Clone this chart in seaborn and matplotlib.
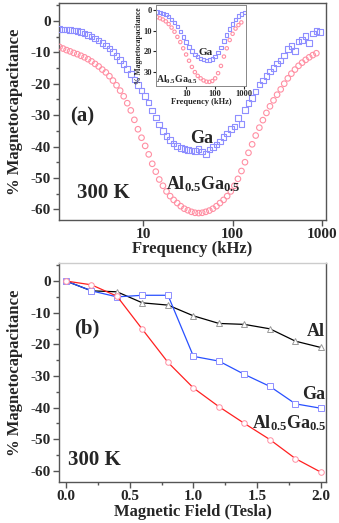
import numpy as np
import pandas as pd
import matplotlib
matplotlib.use('Agg')
import matplotlib.pyplot as plt
from matplotlib.ticker import MultipleLocator, NullLocator, FixedLocator
import seaborn as sns

# (a) frequency sweep, 300 K
freq_khz = [1.15, 1.26, 1.38, 1.51, 1.66, 1.82, 2.00, 2.19, 2.40, 2.63,
            2.88, 3.16, 3.47, 3.80, 4.17, 4.57, 5.01, 5.50, 6.03, 6.61,
            7.24, 7.94, 8.71, 9.55, 10.5, 11.5, 12.6, 13.8, 15.1, 16.6,
            18.2, 20.0, 21.9, 24.0, 26.3, 28.8, 31.6, 34.7, 38.0, 41.7,
            45.7, 50.1, 55.0, 60.3, 66.1, 72.4, 79.4, 87.1, 95.5, 105,
            115, 126, 138, 151, 166, 182, 200, 219, 240, 263,
            288, 316, 347, 380, 417, 457, 501, 550, 603, 661,
            724, 794, 871, 955]
mc_ga = [-2.6, -2.7, -2.8, -2.9, -3.0, -3.3, -3.6, -4.0, -4.5, -5.0,
         -5.6, -6.2, -7.0, -7.8, -8.8, -9.9, -11.1, -12.4, -13.8, -15.3,
         -16.9, -18.6, -20.4, -22.2, -24.0, -26.0, -28.5, -30.8, -33.0, -35.0,
         -36.7, -38.0, -39.0, -39.8, -40.4, -40.8, -41.1, -41.3, -41.4, -40.8,
         -41.6, -42.3, -41.0, -40.2, -39.3, -38.4, -37.0, -35.8, -34.5, -33.6,
         -31.0, -32.8, -28.3, -26.2, -24.5, -22.5, -20.3, -19.0, -17.5, -16.1,
         -15.0, -13.5, -12.6, -11.0, -9.0, -8.0, -9.5, -6.5, -6.0, -4.8,
         -7.0, -4.0, -3.2, -3.6]
mc_alga = [-8.3, -8.8, -9.3, -9.7, -10.2, -10.6, -11.1, -11.6, -12.2, -12.9,
           -13.7, -14.5, -15.5, -16.4, -17.6, -19.0, -20.5, -22.2, -24.0, -26.2,
           -28.5, -31.5, -34.5, -37.2, -39.8, -42.5, -45.5, -48.0, -50.5, -52.5,
           -54.3, -55.8, -57.0, -58.0, -59.0, -59.8, -60.3, -60.8, -61.1, -61.2,
           -61.1, -60.8, -60.4, -59.8, -59.0, -58.0, -57.0, -55.8, -54.3, -52.5,
           -50.3, -47.8, -45.0, -42.0, -39.3, -36.5, -34.0, -31.6, -29.3, -27.2,
           -25.3, -23.5, -21.8, -20.0, -18.3, -16.8, -15.5, -14.3, -13.3, -12.4,
           -11.6, -10.9, -10.3, np.nan]

# inset
inset_freq = [1.00, 1.26, 1.58, 2.00, 2.51, 3.16, 3.98, 5.01, 6.31, 7.94,
              10.0, 12.6, 15.8, 20.0, 25.1, 31.6, 39.8, 50.1, 63.1, 79.4,
              100, 126, 158, 200, 251, 316, 398, 501, 631, 794, 1000]
inset_ga = [1.0, 1.3, 1.7, 2.3, 3.2, 4.5, 6.0, 8.0, 10.5, 13.0,
            15.5, 17.8, 19.8, 21.4, 22.6, 23.5, 24.0, 24.3, 24.2, 23.6,
            22.4, 20.5, 18.0, 15.0, 12.0, 9.2, 6.8, 4.6, 3.0, 2.0, 1.2]
inset_alga = [3.5, 4.0, 4.6, 5.5, 6.8, 8.5, 10.5, 13.0, 15.5, 18.5,
              21.5, 24.5, 27.5, 30.0, 31.8, 33.0, 34.0, 34.6, 34.7, 34.3,
              33.0, 30.5, 27.0, 22.5, 18.5, 14.5, 11.5, 9.0, 7.3, 6.0, np.nan]

# (b) field sweep, 300 K
field_t = [0.0, 0.2, 0.4, 0.6, 0.8, 1.0, 1.2, 1.4, 1.6, 1.8, 2.0]
mcb_al = [0, -3.1, -3.4, -6.9, -7.6, -11.0, -13.4, -13.7, -15.1, -19.0, -21.0]
mcb_ga = [0, -3.1, -5.0, -4.5, -4.5, -23.8, -25.3, -29.5, -33.3, -38.8, -40.2]
mcb_alga = [0, -1.2, -4.8, -15.3, -25.7, -33.8, -39.7, -45.0, -50.1, -56.1, -60.4]

sns.set_style('ticks')
plt.rcParams['font.family'] = ['Liberation Serif', 'DejaVu Serif']
plt.rcParams['font.weight'] = 'bold'
plt.rcParams['axes.labelweight'] = 'bold'
plt.rcParams['axes.unicode_minus'] = False
plt.rcParams['mathtext.fontset'] = 'custom'
plt.rcParams['mathtext.rm'] = 'Liberation Serif:bold'
plt.rcParams['mathtext.it'] = 'Liberation Serif:bold'
plt.rcParams['mathtext.bf'] = 'Liberation Serif:bold'

PINK = '#ff8fa3'
LBLUE = '#8f8fff'
frame = '#555555'
alga_lbl = r'Al$_{0.5}$Ga$_{0.5}$'

fig = plt.figure(figsize=(3.39, 5.23), dpi=100)
ax1 = fig.add_axes([59 / 339, 1 - 220 / 523, 267 / 339, 217 / 523])
ax2 = fig.add_axes([59 / 339, 1 - 482 / 523, 267 / 339, 219 / 523])
axi = fig.add_axes([156 / 339, 1 - 86 / 523, 90 / 339, 81 / 523])

df_a = pd.DataFrame({'f': freq_khz, 'Ga': mc_ga, 'AlGa': mc_alga})
sns.scatterplot(data=df_a, x='f', y='AlGa', ax=ax1, marker='o', s=16,
                facecolor='none', edgecolor=PINK, linewidth=0.8, zorder=3)
sns.scatterplot(data=df_a, x='f', y='Ga', ax=ax1, marker='s', s=16,
                facecolor='none', edgecolor=LBLUE, linewidth=0.8, zorder=3)
ax1.set_xscale('log')
ax1.set_xlim(1.135, 1117)
ax1.set_ylim(-63.4, 5.7)
ax1.xaxis.set_major_locator(FixedLocator([10, 100, 1000]))
ax1.set_xticklabels(['10', '100', '1000'])
ax1.xaxis.set_minor_locator(NullLocator())
ax1.yaxis.set_major_locator(MultipleLocator(10))
ax1.yaxis.set_minor_locator(MultipleLocator(5))
ax1.set_xlabel('Frequency (kHz)', fontsize=12)
ax1.set_ylabel('% Magnetocapacitance', fontsize=12)
ax1.xaxis.set_label_coords(0.5, -0.095)
ax1.yaxis.set_label_coords(-0.135, 0.5)
ax1.text(2.05, -30.5, '(a)', fontsize=15, ha='center', va='center')
ax1.text(3.6, -54.7, '300 K', fontsize=15, ha='center', va='center')
ax1.text(45, -37.6, 'Ga', fontsize=13, ha='center', va='center')
ax1.text(47, -52, alga_lbl, fontsize=13, ha='center', va='center')

df_i = pd.DataFrame({'f': inset_freq, 'Ga': inset_ga, 'AlGa': inset_alga})
sns.scatterplot(data=df_i, x='f', y='AlGa', ax=axi, marker='o', s=6,
                facecolor='none', edgecolor=PINK, linewidth=0.8)
sns.scatterplot(data=df_i, x='f', y='Ga', ax=axi, marker='s', s=6,
                facecolor='none', edgecolor=LBLUE, linewidth=0.8)
axi.set_xscale('log')
axi.set_xlim(0.92, 1150)
axi.set_ylim(36.7, -2.4)
axi.xaxis.set_major_locator(FixedLocator([10, 100, 1000]))
axi.set_xticklabels(['10', '100', '1000'])
axi.xaxis.set_minor_locator(NullLocator())
axi.yaxis.set_major_locator(MultipleLocator(10))
axi.set_xlabel('Frequency (kHz)', fontsize=6, labelpad=0)
axi.set_ylabel('% Magnetocapacitance', fontsize=5.5, labelpad=0)
axi.tick_params(labelsize=6, length=2, pad=1)
axi.text(45, 20.3, 'Ga', fontsize=8, ha='center', va='center')
axi.text(4.9, 33.5, alga_lbl, fontsize=7, ha='center', va='center')

sns.lineplot(x=field_t, y=mcb_al, ax=ax2, color='black', linewidth=0.9,
             marker='^', markersize=5, markerfacecolor='white',
             markeredgecolor='#999999', markeredgewidth=0.7)
sns.lineplot(x=field_t, y=mcb_ga, ax=ax2, color='#2850ff', linewidth=0.9,
             marker='s', markersize=4, markerfacecolor='white',
             markeredgecolor=LBLUE, markeredgewidth=0.7)
sns.lineplot(x=field_t, y=mcb_alga, ax=ax2, color='#ff2020', linewidth=0.9,
             marker='o', markersize=4, markerfacecolor='white',
             markeredgecolor=PINK, markeredgewidth=0.7)
ax2.set_xlim(-0.055, 2.04)
ax2.set_ylim(-63.5, 5.7)
ax2.xaxis.set_major_locator(MultipleLocator(0.5))
ax2.xaxis.set_minor_locator(MultipleLocator(0.25))
ax2.yaxis.set_major_locator(MultipleLocator(10))
ax2.yaxis.set_minor_locator(MultipleLocator(5))
ax2.xaxis.set_major_formatter(plt.FormatStrFormatter('%.1f'))
ax2.set_xlabel('Magnetic Field (Tesla)', fontsize=12)
ax2.set_ylabel('% Magnetocapacitance', fontsize=12)
ax2.xaxis.set_label_coords(0.5, -0.1)
ax2.yaxis.set_label_coords(-0.135, 0.5)
ax2.text(0.16, -15, '(b)', fontsize=15, ha='center', va='center')
ax2.text(0.22, -56.6, '300 K', fontsize=15, ha='center', va='center')
ax2.text(2.03, -16.1, 'Al', fontsize=13, ha='right', va='center')
ax2.text(2.03, -36, 'Ga', fontsize=13, ha='right', va='center')
ax2.text(2.045, -45, alga_lbl, fontsize=13, ha='right', va='center')

for ax in (ax1, ax2):
    ax.tick_params(axis='both', which='major', direction='out', length=4,
                   width=1, labelsize=11, color=frame, pad=2)
    ax.tick_params(axis='both', which='minor', direction='out', length=2.5,
                   width=1, color=frame)
    for sp in ax.spines.values():
        sp.set_visible(True)
        sp.set_color(frame)
        sp.set_linewidth(1.0)
ax2.spines['top'].set_color('#cccccc')
for sp in axi.spines.values():
    sp.set_color('#888888')
    sp.set_linewidth(0.7)

fig.savefig('out.png', dpi=100)
